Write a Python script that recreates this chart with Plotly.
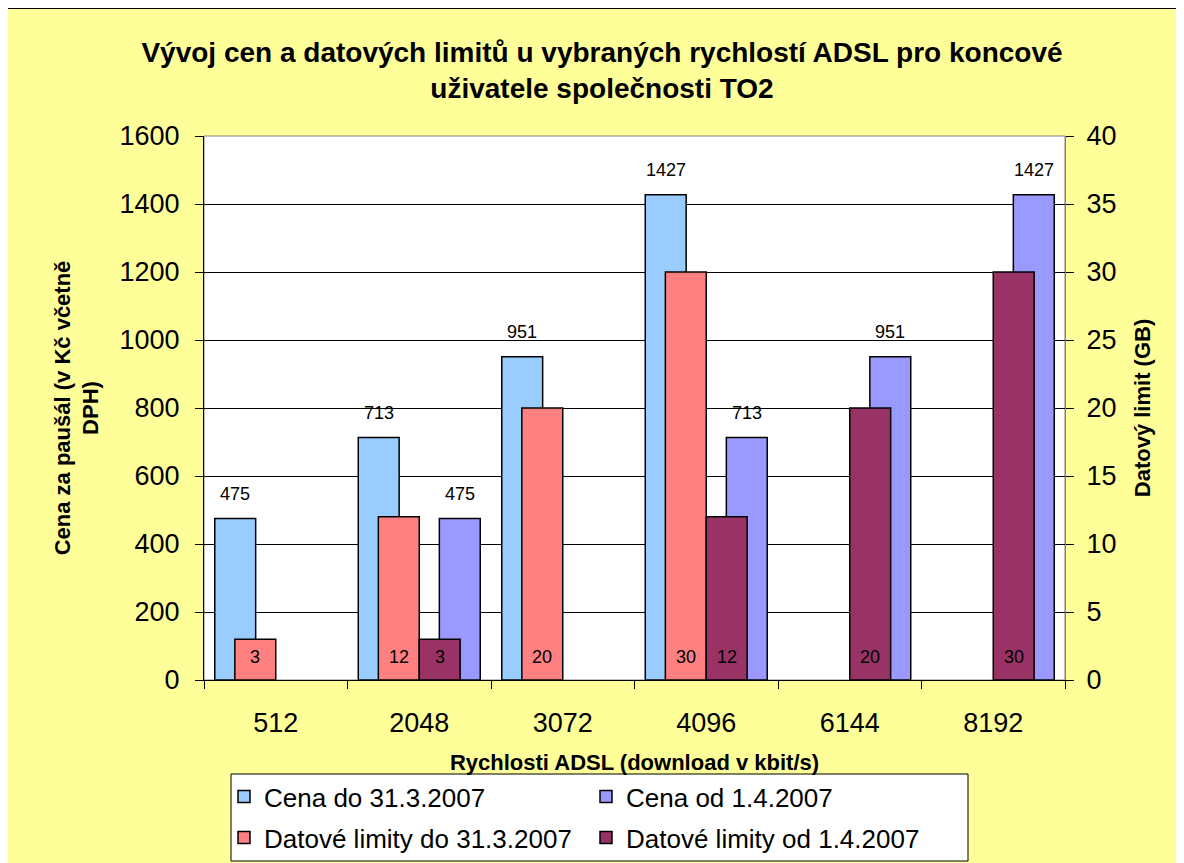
import plotly.graph_objects as go

# ---------------- data ----------------
speeds = ["512", "2048", "3072", "4096", "6144", "8192"]
price_old = [475, 713, 951, 1427, None, None]      # Cena do 31.3.2007 (Kč)
price_new = [None, 475, None, 713, 951, 1427]      # Cena od 1.4.2007 (Kč)
limit_old = [3, 12, 20, 30, None, None]            # Datové limity do 31.3.2007 (GB)
limit_new = [None, 3, None, 12, 20, 30]            # Datové limity od 1.4.2007 (GB)

names = ["Cena do 31.3.2007", "Cena od 1.4.2007",
         "Datové limity do 31.3.2007", "Datové limity od 1.4.2007"]
colors = ["#99CCFF", "#9999FF", "#FF8080", "#993366"]

title_text = ("Vývoj cen a datových limitů u vybraných rychlostí ADSL pro koncové"
              "<br>uživatele společnosti TO2")
x_title = "Rychlosti ADSL (download v kbit/s)"
y_title = "Cena za paušál (v Kč včetně<br>DPH)"
y2_title = "Datový limit (GB)"

FONT = "Liberation Sans, Arial, sans-serif"
BG = "#FFFF99"

xs = list(range(len(speeds)))

# bar geometry (in category units)
W = 0.285
series = [
    (price_old, "y", -0.425, "legend"),
    (price_new, "y", 0.14, "legend"),
    (limit_old, "y2", -0.285, "legend2"),
    (limit_new, "y2", 0.0, "legend2"),
]

fig = go.Figure()
annotations = []
for (vals, ax, off, lg), name, col in zip(series, names, colors):
    fig.add_trace(go.Bar(
        x=xs, y=vals, name=name, yaxis=ax, legend=lg,
        offset=off, width=W,
        marker=dict(color=col, line=dict(color="black", width=1.5)),
        hoverinfo="name+y",
    ))
    for i, v in enumerate(vals):
        if v is None:
            continue
        if ax == "y":
            annotations.append(dict(
                x=i + off + W / 2, y=v, xref="x", yref="y",
                text=str(v), showarrow=False, yshift=25, yanchor="middle",
                font=dict(family=FONT, size=18, color="black")))
        else:
            annotations.append(dict(
                x=i + off + W / 2, y=0, xref="x", yref="y2",
                text=str(v), showarrow=False, yshift=23, yanchor="middle",
                font=dict(family=FONT, size=18, color="black")))

# page is rendered with an 8px body margin -> convert page pixels to figure pixels
OFF = 8
L, R, T, B = 204 - OFF, 1065 - OFF, 136 - OFF, 680 - OFF
PW, PH = R - L, B - T
def px(X):
    return (X - OFF - L) / PW
def py(Y):
    return (B - (Y - OFF)) / PH

shapes = [
    # chart area (yellow with black border)
    dict(type="rect", xref="paper", yref="paper",
         x0=px(7), x1=px(1200), y0=py(880), y1=py(8),
         fillcolor=BG, line=dict(color="black", width=2), layer="below"),
    # plot area (white with grey border)
    dict(type="rect", xref="paper", yref="paper",
         x0=0, x1=1, y0=0, y1=1,
         fillcolor="white", line=dict(color="#808080", width=1), layer="below"),
    # legend box
    dict(type="rect", xref="paper", yref="paper",
         x0=px(231), x1=px(968), y0=py(861), y1=py(774),
         fillcolor="white", line=dict(color="black", width=1), layer="below"),
]

legend_common = dict(
    orientation="h", xanchor="left", yanchor="top",
    entrywidth=317, bgcolor="rgba(0,0,0,0)", borderwidth=0,
    font=dict(family=FONT, size=26, color="black"),
    traceorder="normal",
)

fig.update_layout(
    width=1184, height=863,
    margin=dict(l=L, r=1184 - R, t=T, b=863 - B, autoexpand=False),
    paper_bgcolor="white", plot_bgcolor="white",
    barmode="overlay",
    font=dict(family=FONT, color="black"),
    title=dict(text=title_text, x=(602 - OFF) / 1184, xanchor="center",
               y=1 - 54 / 863, yanchor="top", yref="container",
               font=dict(family=FONT, size=28, weight="bold", color="black")),
    xaxis=dict(
        range=[-0.5, len(speeds) - 0.5],
        tickmode="array", tickvals=xs, ticktext=speeds,
        ticks="", ticklabelstandoff=19,
        tickfont=dict(family=FONT, size=27),
        showgrid=False, zeroline=False,
        showline=True, linecolor="black", linewidth=1,
        minor=dict(tick0=-0.5, dtick=1, ticks="outside", ticklen=8,
                   tickcolor="black", tickwidth=1, showgrid=False),
        title=dict(text=x_title, standoff=17,
                   font=dict(family=FONT, size=22, weight="bold")),
    ),
    yaxis=dict(
        range=[0, 1600], dtick=200,
        ticks="outside", ticklen=8, tickcolor="black",
        ticklabelstandoff=10,
        tickfont=dict(family=FONT, size=27),
        showgrid=True, gridcolor="black", gridwidth=1,
        zeroline=False,
        showline=True, linecolor="black", linewidth=1,
        title=dict(text=y_title, standoff=14,
                   font=dict(family=FONT, size=22, weight="bold")),
    ),
    yaxis2=dict(
        range=[0, 40], dtick=5, overlaying="y", side="right",
        ticks="outside", ticklen=8, tickcolor="black",
        ticklabelstandoff=7,
        tickfont=dict(family=FONT, size=27),
        showgrid=False, zeroline=False,
        showline=True, linecolor="#808080", linewidth=1,
        title=dict(text=y2_title, standoff=19,
                   font=dict(family=FONT, size=22, weight="bold")),
    ),
    legend=dict(legend_common, x=px(224), y=py(773)),
    legend2=dict(legend_common, x=px(224), y=py(814)),
    shapes=shapes,
    annotations=annotations,
)

fig.write_html("out.html")
